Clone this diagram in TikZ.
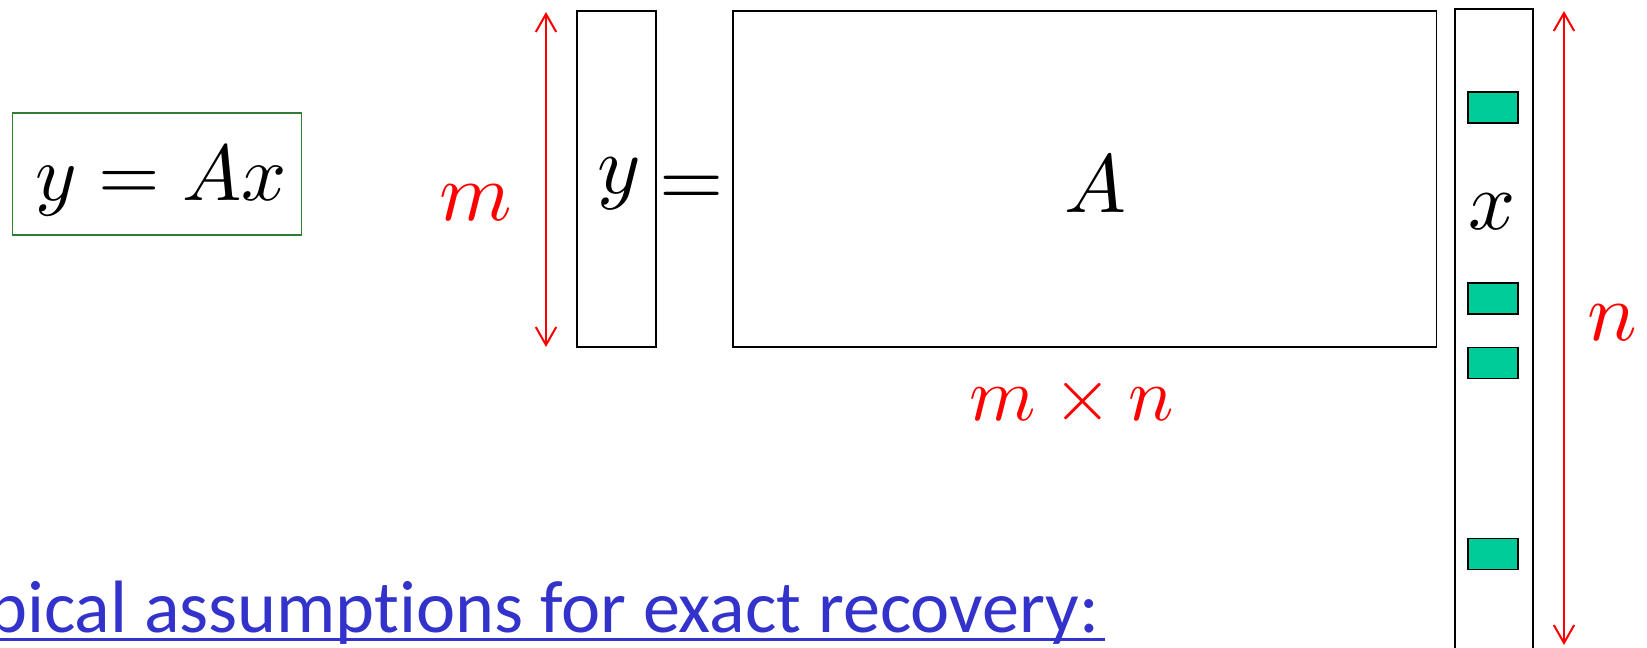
\documentclass[tikz,border=0pt]{standalone}
\usepackage[no-math]{fontspec}
\newfontfamily\calibri[Ligatures=NoCommon]{Carlito}
% Computer Modern at its 10pt design, scaled up
\DeclareFontFamily{OML}{cmmten}{\skewchar\font'177}
\DeclareFontShape{OML}{cmmten}{m}{it}{<->cmmi10}{}
\DeclareFontFamily{OT1}{cmrten}{}
\DeclareFontShape{OT1}{cmrten}{m}{n}{<->cmr10}{}
\DeclareFontFamily{OMS}{cmsyten}{\skewchar\font'60}
\DeclareFontShape{OMS}{cmsyten}{m}{n}{<->cmsy10}{}
\DeclareSymbolFont{operators}{OT1}{cmrten}{m}{n}
\DeclareSymbolFont{letters}{OML}{cmmten}{m}{it}
\DeclareSymbolFont{symbols}{OMS}{cmsyten}{m}{n}
\usetikzlibrary{
  arrows.meta,
  positioning,
  calc
}
\definecolor{boxgreen}{RGB}{46,125,50}
\definecolor{spikegreen}{RGB}{0,204,153}
\definecolor{linkblue}{RGB}{51,51,204}
\newcommand{\bigmath}{\fontsize{23.5}{28}\selectfont}
\tikzset{
  % Matrix / vector block
  blockbox/.style={
    draw=black, line width=0.4pt, inner sep=0pt
  },
  % Black math symbol
  symlabel/.style={
    font=\bigmath, inner sep=0pt, anchor=base
  },
  % Nonzero entry of the sparse vector
  spike/.style={
    draw=black, fill=spikegreen, line width=0.5pt,
    minimum width=0.5cm, minimum height=0.31cm, inner sep=0pt
  },
  % Red dimension label
  dimlabel/.style={
    text=red, font=\bigmath, inner sep=0pt, anchor=base
  },
  % Red double arrow
  dimarrow/.style={
    {Straight Barb[length=5.1pt,width=5.8pt]}-{Straight Barb[length=5.1pt,width=5.8pt]},
    draw=red, line width=0.57pt
  },
}

\begin{document}
\begin{tikzpicture}[x=0.01cm, y=-0.01cm]

\clip (0,0) rectangle (1647,648);

% ── Boxed equation ────────────────────────────────────────────────────────────
\node[draw=boxgreen, line width=0.5pt,
      minimum width=2.89cm, minimum height=1.22cm]
  (eqbox) at (157,174) {};
\node[symlabel, font=\fontsize{22.5}{27}\selectfont] (eqtext) at (161,200) {$y = Ax$};

% ── y = A x blocks ────────────────────────────────────────────────────────────
\node[blockbox, minimum width=0.79cm, minimum height=3.36cm]
  (ybox) at (616.5,179) {};
\node[symlabel] (ylabel) at (619,193) {$y$};
\node[symlabel] (eqsign) at (692,206) {$=$};
\node[blockbox, minimum width=7.03cm, minimum height=3.36cm]
  (Abox) at (1084.5,179) {};
\node[symlabel] (Alabel) at (1095,212) {$A$};
\node[blockbox, minimum width=0.78cm, minimum height=6.51cm]
  (xbox) at (1494,334.5) {};
\node[symlabel] (xlabel) at (1492,229) {$x$};

% Nonzero entries of x
\foreach \t [count=\i] in {107.5, 298.5, 363, 554}{
  \node[spike] (spike\i) at (1493,\t) {};
}

% ── Dimensions ────────────────────────────────────────────────────────────────
\coordinate (mtop) at (546,12);
\coordinate (mbot) at (546,347);
\draw[dimarrow] (mtop) -- (mbot);
\node[dimlabel] (mlabel) at (476,220) {$m$};

\coordinate (ntop) at (1564,11);
\coordinate (nbot) at (1564,645);
\draw[dimarrow] (ntop) -- (nbot);
\node[dimlabel] (nlabel) at (1612,340) {$n$};

\node[dimlabel, font=\fontsize{21.5}{26}\selectfont]
  (mnlabel) at (1072,420) {$m \times n$};

% ── Bottom heading ────────────────────────────────────────────────────────────
\node[text=linkblue, font=\fontsize{21.1}{25}\selectfont\calibri,
      inner sep=0pt, anchor=base east]
  (heading) at (1100,632) {Typical assumptions for exact recovery:};
\draw[draw=linkblue, line width=0.85pt]
  ($(heading.base west)+(0,7.5)$) -- ($(heading.base east)+(5,7.5)$);

\end{tikzpicture}
\end{document}
